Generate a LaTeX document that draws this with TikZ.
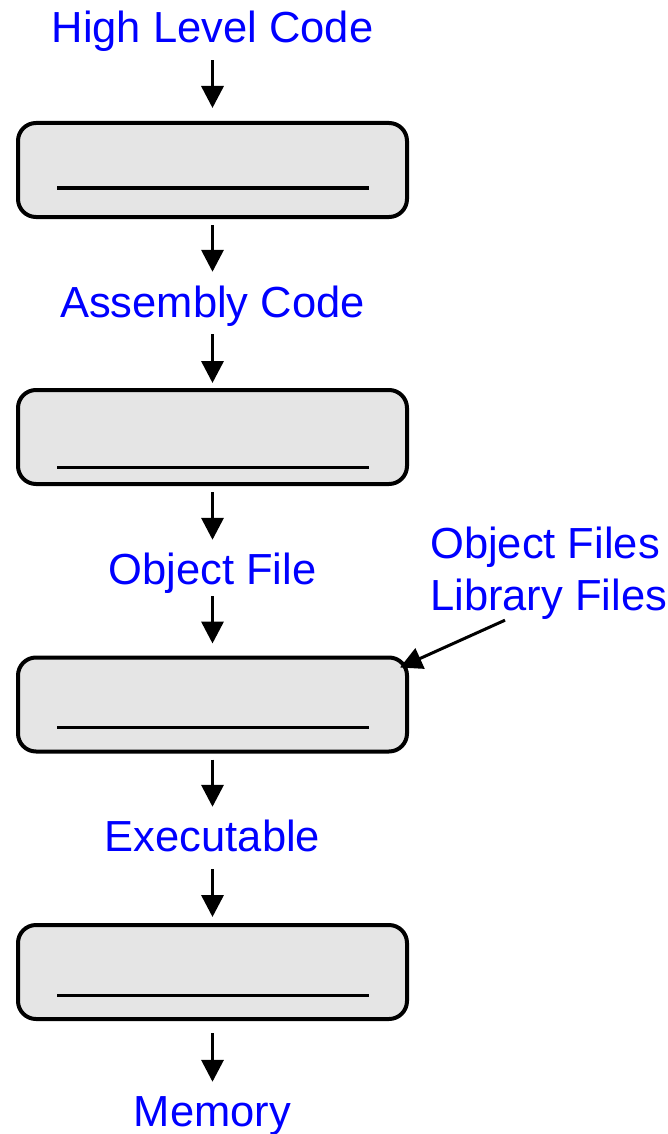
\documentclass[tikz,border=0pt]{standalone}
\usepackage{fontspec}
\setmainfont{Liberation Sans}
\usetikzlibrary{arrows.meta}
\definecolor{lblue}{RGB}{0,0,255}
\definecolor{boxfill}{RGB}{229,229,229}
\tikzset{
  stagebox/.style={draw=black, line width=4pt, fill=boxfill, rounded corners=18pt,
    minimum width=389pt, minimum height=94pt, inner sep=0pt},
  lbl/.style={text=lblue, font=\fontsize{43.5}{52}\selectfont, inner sep=0pt,
    text height=31pt, text depth=9pt},
  arr/.style={line width=3.5pt, -{Triangle[length=22pt,width=22pt]}},
  inline/.style={line width=3pt}
}
\begin{document}
\begin{tikzpicture}[x=1pt,y=-1pt]
\useasboundingbox (0,0) rectangle (667,1134);
% text labels
\node[lbl, anchor=base] (hl)  at (212.5,43)   {High Level Code};
\node[lbl, anchor=base] (asm) at (212.5,317)  {Assembly Code};
\node[lbl, anchor=base] (obj) at (212.5,584)  {Object File};
\node[lbl, anchor=base] (exe) at (212.5,851)  {Executable};
\node[lbl, anchor=base] (mem) at (212.5,1126) {Memory};
\node[lbl, anchor=base west] (objf) at (430,558) {Object Files};
\node[lbl, anchor=base west] (libf) at (430,610) {Library Files};
% boxes
\node[stagebox] (b1) at (212.5,170) {};
\node[stagebox] (b2) at (212.5,437) {};
\node[stagebox] (b3) at (212.5,704.5) {};
\node[stagebox] (b4) at (212.5,972) {};
% blank lines in boxes
\draw[inline] ([xshift=41pt,yshift=31pt]b1.south west) -- ([xshift=-40pt,yshift=31pt]b1.south east);
\draw[inline] ([xshift=41pt,yshift=19pt]b2.south west) -- ([xshift=-40pt,yshift=19pt]b2.south east);
\draw[inline] ([xshift=41pt,yshift=26pt]b3.south west) -- ([xshift=-40pt,yshift=26pt]b3.south east);
\draw[inline] ([xshift=41pt,yshift=26pt]b4.south west) -- ([xshift=-40pt,yshift=26pt]b4.south east);
% arrows
\draw[arr, shorten <=8pt, shorten >=13pt] (hl.south) -- (b1.north);
\draw[arr, shorten <=6pt, shorten >=14pt] (b1.south) -- (asm.north);
\draw[arr, shorten <=8pt, shorten >=5pt]  (asm.south) -- (b2.north);
\draw[arr, shorten <=6pt, shorten >=13pt] (b2.south) -- (obj.north);
\draw[arr, shorten <=3pt, shorten >=12pt] (obj.south) -- (b3.north);
\draw[arr, shorten <=6pt, shorten >=13pt] (b3.south) -- (exe.north);
\draw[arr, shorten <=9pt, shorten >=6pt]  (exe.south) -- (b4.north);
\draw[arr, shorten <=12pt, shorten >=13pt] (b4.south) -- (mem.north);
\coordinate (libtip) at ([xshift=-9pt,yshift=-12pt]b3.north east);
\draw[arr, line width=3pt] ([xshift=75pt,yshift=-1pt]libf.south west) -- (libtip);
\end{tikzpicture}
\end{document}
